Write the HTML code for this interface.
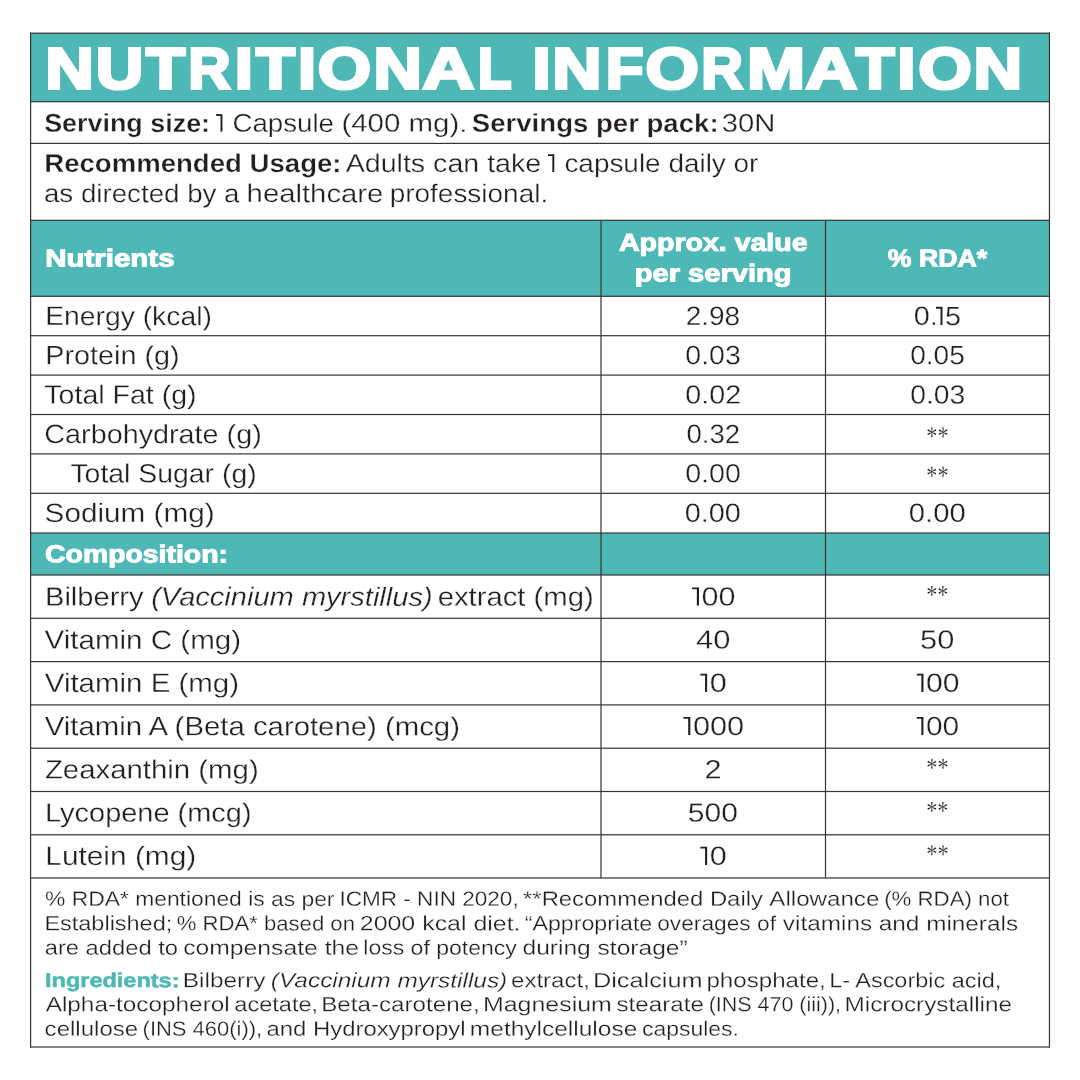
<!DOCTYPE html>
<html><head><meta charset="utf-8"><title>Nutritional Information</title>
<style>
html,body{margin:0;padding:0;background:#fff;}
body{width:1080px;height:1080px;position:relative;overflow:hidden;font-family:"Liberation Sans",sans-serif;}
#page{position:absolute;left:0;top:0;width:1080px;height:1080px;will-change:transform;text-rendering:geometricPrecision;}
.r{position:absolute;}
.t{position:absolute;white-space:pre;line-height:1;transform-origin:0 0;}
.o{display:inline-block;overflow:hidden;width:.265em;height:.72em;margin:0 .065em 0 -.08em;background:#231f20;color:transparent;-webkit-text-stroke:0 transparent;clip-path:polygon(.02em .032em,.245em .032em,.245em .72em,.175em .72em,.175em .102em,.02em .102em);}
</style></head><body><div id="page">
<svg class="r" width="1080" height="1080" viewBox="0 0 1080 1080" style="left:0;top:0">
<rect x="30" y="33" width="1020" height="68.7" fill="#4db8b5"/>
<rect x="30" y="220.3" width="1020" height="76.0" fill="#4db8b5"/>
<rect x="30" y="533" width="1020" height="42" fill="#4db8b5"/>
<rect x="30" y="101.1" width="1020" height="1.2" fill="#363636"/>
<rect x="30" y="142.8" width="1020" height="1.2" fill="#363636"/>
<rect x="30" y="219.7" width="1020" height="1.2" fill="#363636"/>
<rect x="30" y="295.7" width="1020" height="1.2" fill="#363636"/>
<rect x="30" y="335.1" width="1020" height="1.2" fill="#363636"/>
<rect x="30" y="374.5" width="1020" height="1.2" fill="#363636"/>
<rect x="30" y="413.9" width="1020" height="1.2" fill="#363636"/>
<rect x="30" y="453.3" width="1020" height="1.2" fill="#363636"/>
<rect x="30" y="492.7" width="1020" height="1.2" fill="#363636"/>
<rect x="30" y="532.4" width="1020" height="1.2" fill="#363636"/>
<rect x="30" y="574.4" width="1020" height="1.2" fill="#363636"/>
<rect x="30" y="617.7" width="1020" height="1.2" fill="#363636"/>
<rect x="30" y="661.0" width="1020" height="1.2" fill="#363636"/>
<rect x="30" y="704.3" width="1020" height="1.2" fill="#363636"/>
<rect x="30" y="747.6" width="1020" height="1.2" fill="#363636"/>
<rect x="30" y="790.9" width="1020" height="1.2" fill="#363636"/>
<rect x="30" y="834.2" width="1020" height="1.2" fill="#363636"/>
<rect x="30" y="877.4" width="1020" height="1.2" fill="#363636"/>
<rect x="600.4" y="220.3" width="1.2" height="657.7" fill="#363636"/>
<rect x="824.9" y="220.3" width="1.2" height="657.7" fill="#363636"/>
<rect x="30" y="32.6" width="1020" height="1.2" fill="#363636"/>
<rect x="30" y="1046.4" width="1020" height="1.2" fill="#363636"/>
<rect x="30.0" y="32.6" width="1.2" height="1015.0" fill="#363636"/>
<rect x="1048.85" y="32.6" width="1.2" height="1015.0" fill="#363636"/>
</svg>
<span class="t s" style="left:45px;top:40px;font-size:58.1px;color:#fff;transform:translate(0.22px,0.51px) scaleX(1.1574) rotate(.05deg);font-weight:700;-webkit-text-stroke:3px #fff;">N</span><span class="t s" style="left:95px;top:40px;font-size:58.1px;color:#fff;transform:translate(0.73px,0.51px) scaleX(1.1338) rotate(.05deg);font-weight:700;-webkit-text-stroke:3px #fff;">U</span><span class="t s" style="left:145px;top:40px;font-size:58.1px;color:#fff;transform:translate(0.96px,0.51px) scaleX(1.1036) rotate(.05deg);font-weight:700;-webkit-text-stroke:3px #fff;">T</span><span class="t s" style="left:188px;top:40px;font-size:58.1px;color:#fff;transform:translate(0.20px,0.51px) scaleX(1.0071) rotate(.05deg);font-weight:700;-webkit-text-stroke:3px #fff;">R</span><span class="t s" style="left:234px;top:40px;font-size:58.1px;color:#fff;transform:translate(0.81px,0.51px) scaleX(1.1242) rotate(.05deg);font-weight:700;-webkit-text-stroke:3px #fff;">I</span><span class="t s" style="left:255px;top:40px;font-size:58.1px;color:#fff;transform:translate(0.93px,0.51px) scaleX(1.0972) rotate(.05deg);font-weight:700;-webkit-text-stroke:3px #fff;">T</span><span class="t s" style="left:298px;top:40px;font-size:58.1px;color:#fff;transform:translate(0.04px,0.51px) scaleX(1.1155) rotate(.05deg);font-weight:700;-webkit-text-stroke:3px #fff;">I</span><span class="t s" style="left:317px;top:40px;font-size:58.1px;color:#fff;transform:translate(0.84px,0.51px) scaleX(1.1786) rotate(.05deg);font-weight:700;-webkit-text-stroke:3px #fff;">O</span><span class="t s" style="left:373px;top:40px;font-size:58.1px;color:#fff;transform:translate(0.43px,0.51px) scaleX(1.1516) rotate(.05deg);font-weight:700;-webkit-text-stroke:3px #fff;">N</span><span class="t s" style="left:422px;top:40px;font-size:58.1px;color:#fff;transform:translate(0.58px,0.51px) scaleX(1.2328) rotate(.05deg);font-weight:700;-webkit-text-stroke:3px #fff;">A</span><span class="t s" style="left:477px;top:40px;font-size:58.1px;color:#fff;transform:translate(0.71px,0.51px) scaleX(0.9528) rotate(.05deg);font-weight:700;-webkit-text-stroke:3px #fff;">L</span> <span class="t s" style="left:532px;top:40px;font-size:58.1px;color:#fff;transform:translate(0.44px,0.51px) scaleX(1.1266) rotate(.05deg);font-weight:700;-webkit-text-stroke:3px #fff;">I</span><span class="t s" style="left:552px;top:40px;font-size:58.1px;color:#fff;transform:translate(0.35px,0.51px) scaleX(1.1745) rotate(.05deg);font-weight:700;-webkit-text-stroke:3px #fff;">N</span><span class="t s" style="left:605px;top:40px;font-size:58.1px;color:#fff;transform:translate(0.68px,0.51px) scaleX(1.0650) rotate(.05deg);font-weight:700;-webkit-text-stroke:3px #fff;">F</span><span class="t s" style="left:645px;top:40px;font-size:58.1px;color:#fff;transform:translate(0.54px,0.51px) scaleX(1.1798) rotate(.05deg);font-weight:700;-webkit-text-stroke:3px #fff;">O</span><span class="t s" style="left:701px;top:40px;font-size:58.1px;color:#fff;transform:translate(0.37px,0.51px) scaleX(0.9939) rotate(.05deg);font-weight:700;-webkit-text-stroke:3px #fff;">R</span><span class="t s" style="left:747px;top:40px;font-size:58.1px;color:#fff;transform:translate(0.14px,0.51px) scaleX(1.1994) rotate(.05deg);font-weight:700;-webkit-text-stroke:3px #fff;">M</span><span class="t s" style="left:805px;top:40px;font-size:58.1px;color:#fff;transform:translate(0.58px,0.51px) scaleX(1.2328) rotate(.05deg);font-weight:700;-webkit-text-stroke:3px #fff;">A</span><span class="t s" style="left:855px;top:40px;font-size:58.1px;color:#fff;transform:translate(0.91px,0.51px) scaleX(1.0904) rotate(.05deg);font-weight:700;-webkit-text-stroke:3px #fff;">T</span><span class="t s" style="left:897px;top:40px;font-size:58.1px;color:#fff;transform:translate(0.30px,0.51px) scaleX(1.1246) rotate(.05deg);font-weight:700;-webkit-text-stroke:3px #fff;">I</span><span class="t s" style="left:918px;top:40px;font-size:58.1px;color:#fff;transform:translate(0.22px,0.51px) scaleX(1.1843) rotate(.05deg);font-weight:700;-webkit-text-stroke:3px #fff;">O</span><span class="t s" style="left:973px;top:40px;font-size:58.1px;color:#fff;transform:translate(0.63px,0.51px) scaleX(1.1583) rotate(.05deg);font-weight:700;-webkit-text-stroke:3px #fff;">N</span>
<span class="t" style="left:44px;top:111px;font-size:25.7px;color:#231f20;transform:translate(0.19px,0.80px) scaleX(1.0467) rotate(.05deg);font-weight:700;-webkit-text-stroke:0.3px #fff;">Serving size:</span>
<span class="t" style="left:217px;top:111px;font-size:25.7px;color:#231f20;transform:translate(0.87px,0.80px) scaleX(1.0769) rotate(.05deg);-webkit-text-stroke:0.3px #fff;"><span class="o">1</span> Capsule</span> <span class="t" style="left:341px;top:111px;font-size:25.7px;color:#231f20;transform:translate(0.43px,0.80px) scaleX(1.1468) rotate(.05deg);-webkit-text-stroke:0.3px #fff;">(400 mg).</span>
<span class="t" style="left:471px;top:111px;font-size:25.7px;color:#231f20;transform:translate(0.85px,0.80px) scaleX(1.0734) rotate(.05deg);font-weight:700;-webkit-text-stroke:0.3px #fff;">Servings per pack:</span>
<span class="t" style="left:721px;top:111px;font-size:25.7px;color:#231f20;transform:translate(0.72px,0.80px) scaleX(1.1372) rotate(.05deg);-webkit-text-stroke:0.3px #fff;">30N</span>
<span class="t" style="left:44px;top:151px;font-size:25.7px;color:#231f20;transform:translate(0.23px,0.90px) scaleX(1.0736) rotate(.05deg);font-weight:700;-webkit-text-stroke:0.3px #fff;">Recommended Usage:</span>
<span class="t" style="left:345px;top:151px;font-size:25.7px;color:#231f20;transform:translate(0.73px,0.90px) scaleX(1.1129) rotate(.05deg);-webkit-text-stroke:0.3px #fff;">Adults can take</span> <span class="t" style="left:549px;top:151px;font-size:25.7px;color:#231f20;transform:translate(0.68px,0.90px) scaleX(1.0871) rotate(.05deg);-webkit-text-stroke:0.3px #fff;"><span class="o">1</span> capsule daily or</span>
<span class="t" style="left:43px;top:182px;font-size:25.7px;color:#231f20;transform:translate(0.97px,0.10px) scaleX(1.0785) rotate(.05deg);-webkit-text-stroke:0.3px #fff;">as directed by a</span> <span class="t" style="left:246px;top:182px;font-size:25.7px;color:#231f20;transform:translate(0.64px,0.10px) scaleX(1.1398) rotate(.05deg);-webkit-text-stroke:0.3px #fff;">healthcare</span> <span class="t" style="left:389px;top:182px;font-size:25.7px;color:#231f20;transform:translate(0.73px,0.10px) scaleX(1.0878) rotate(.05deg);-webkit-text-stroke:0.3px #fff;">professional.</span>
<span class="t s" style="left:45px;top:247px;font-size:24.5px;color:#fff;transform:translate(0.15px,0.41px) scaleX(1.2035) rotate(.05deg);font-weight:700;-webkit-text-stroke:1.0px #fff;">Nutrients</span>
<span class="t s" style="left:618px;top:231px;font-size:24.5px;color:#fff;transform:translate(0.97px,0.71px) scaleX(1.1642) rotate(.05deg);font-weight:700;-webkit-text-stroke:1.0px #fff;">Approx. value</span>
<span class="t s" style="left:634px;top:262px;font-size:24.5px;color:#fff;transform:translate(0.78px,0.41px) scaleX(1.1869) rotate(.05deg);font-weight:700;-webkit-text-stroke:1.0px #fff;">per serving</span>
<span class="t s" style="left:887px;top:247px;font-size:24.5px;color:#fff;transform:translate(0.84px,0.51px) scaleX(1.0881) rotate(.05deg);font-weight:700;-webkit-text-stroke:1.0px #fff;">% RDA*</span>
<span class="t" style="left:45px;top:303px;font-size:26.6px;color:#231f20;transform:translate(0.16px,0.10px) scaleX(1.0643) rotate(.05deg);-webkit-text-stroke:0.3px #fff;">Energy (kcal)</span>
<span class="t" style="left:685px;top:303px;font-size:26.6px;color:#231f20;transform:translate(0.76px,0.10px) scaleX(1.0504) rotate(.05deg);-webkit-text-stroke:0.3px #fff;">2.98</span>
<span class="t" style="left:913px;top:303px;font-size:26.6px;color:#231f20;transform:translate(0.69px,0.10px) scaleX(1.0850) rotate(.05deg);-webkit-text-stroke:0.3px #fff;">0.<span class="o">1</span>5</span>
<span class="t" style="left:45px;top:342px;font-size:26.6px;color:#231f20;transform:translate(0.31px,0.30px) scaleX(1.0822) rotate(.05deg);-webkit-text-stroke:0.3px #fff;">Protein (g)</span>
<span class="t" style="left:685px;top:342px;font-size:26.6px;color:#231f20;transform:translate(0.35px,0.30px) scaleX(1.0726) rotate(.05deg);-webkit-text-stroke:0.3px #fff;">0.03</span>
<span class="t" style="left:910px;top:342px;font-size:26.6px;color:#231f20;transform:translate(0.19px,0.30px) scaleX(1.0544) rotate(.05deg);-webkit-text-stroke:0.3px #fff;">0.05</span>
<span class="t" style="left:44px;top:381px;font-size:26.6px;color:#231f20;transform:translate(0.37px,0.70px) scaleX(1.0732) rotate(.05deg);-webkit-text-stroke:0.3px #fff;">Total Fat (g)</span>
<span class="t" style="left:685px;top:381px;font-size:26.6px;color:#231f20;transform:translate(0.36px,0.70px) scaleX(1.0773) rotate(.05deg);-webkit-text-stroke:0.3px #fff;">0.02</span>
<span class="t" style="left:910px;top:381px;font-size:26.6px;color:#231f20;transform:translate(0.20px,0.70px) scaleX(1.0616) rotate(.05deg);-webkit-text-stroke:0.3px #fff;">0.03</span>
<span class="t" style="left:44px;top:421px;font-size:26.6px;color:#231f20;transform:translate(0.34px,0.10px) scaleX(1.0814) rotate(.05deg);-webkit-text-stroke:0.3px #fff;">Carbohydrate (g)</span>
<span class="t" style="left:686px;top:421px;font-size:26.6px;color:#231f20;transform:translate(0.44px,0.10px) scaleX(1.0352) rotate(.05deg);-webkit-text-stroke:0.3px #fff;">0.32</span>
<span class="t" style="left:926px;top:423px;font-size:27.3px;color:#231f20;transform:translate(0.27px,0.10px) scaleX(0.8150) rotate(.05deg);font-family:&quot;Liberation Serif&quot;,serif;-webkit-text-stroke:0.15px #fff;">**</span>
<span class="t" style="left:70px;top:460px;font-size:26.6px;color:#231f20;transform:translate(0.43px,0.50px) scaleX(1.0677) rotate(.05deg);-webkit-text-stroke:0.3px #fff;">Total Sugar (g)</span>
<span class="t" style="left:685px;top:460px;font-size:26.6px;color:#231f20;transform:translate(0.24px,0.50px) scaleX(1.0752) rotate(.05deg);-webkit-text-stroke:0.3px #fff;">0.00</span>
<span class="t" style="left:926px;top:462px;font-size:27.3px;color:#231f20;transform:translate(0.36px,0.50px) scaleX(0.8118) rotate(.05deg);font-family:&quot;Liberation Serif&quot;,serif;-webkit-text-stroke:0.15px #fff;">**</span>
<span class="t" style="left:44px;top:499px;font-size:26.6px;color:#231f20;transform:translate(0.63px,0.90px) scaleX(1.1173) rotate(.05deg);-webkit-text-stroke:0.3px #fff;">Sodium (mg)</span>
<span class="t" style="left:684px;top:499px;font-size:26.6px;color:#231f20;transform:translate(0.75px,0.90px) scaleX(1.0852) rotate(.05deg);-webkit-text-stroke:0.3px #fff;">0.00</span>
<span class="t" style="left:908px;top:499px;font-size:26.6px;color:#231f20;transform:translate(0.88px,0.90px) scaleX(1.0997) rotate(.05deg);-webkit-text-stroke:0.3px #fff;">0.00</span>
<span class="t s" style="left:45px;top:543px;font-size:24.5px;color:#fff;transform:translate(0.08px,0.31px) scaleX(1.1586) rotate(.05deg);font-weight:700;-webkit-text-stroke:1.0px #fff;">Composition:</span>
<span class="t" style="left:45px;top:583px;font-size:26.6px;color:#231f20;transform:translate(0.06px,0.70px) scaleX(1.0926) rotate(.05deg);-webkit-text-stroke:0.3px #fff;">Bilberry</span>
<span class="t" style="left:151px;top:583px;font-size:26.6px;color:#231f20;transform:translate(0.17px,0.70px) scaleX(1.0928) rotate(.05deg);font-style:italic;-webkit-text-stroke:0.3px #fff;">(Vaccinium myrstillus)</span>
<span class="t" style="left:437px;top:583px;font-size:26.6px;color:#231f20;transform:translate(0.77px,0.70px) scaleX(1.0993) rotate(.05deg);-webkit-text-stroke:0.3px #fff;">extract (mg)</span>
<span class="t" style="left:693px;top:583px;font-size:26.6px;color:#231f20;transform:translate(0.97px,0.70px) scaleX(1.1445) rotate(.05deg);-webkit-text-stroke:0.3px #fff;"><span class="o">1</span>00</span>
<span class="t" style="left:926px;top:581px;font-size:27.3px;color:#231f20;transform:translate(0.26px,0.80px) scaleX(0.8150) rotate(.05deg);font-family:&quot;Liberation Serif&quot;,serif;-webkit-text-stroke:0.15px #fff;">**</span>
<span class="t" style="left:44px;top:626px;font-size:26.6px;color:#231f20;transform:translate(0.56px,0.85px) scaleX(1.1114) rotate(.05deg);-webkit-text-stroke:0.3px #fff;">Vitamin C (mg)</span>
<span class="t" style="left:696px;top:626px;font-size:26.6px;color:#231f20;transform:translate(0.11px,0.85px) scaleX(1.1618) rotate(.05deg);-webkit-text-stroke:0.3px #fff;">40</span>
<span class="t" style="left:920px;top:626px;font-size:26.6px;color:#231f20;transform:translate(0.11px,0.85px) scaleX(1.1584) rotate(.05deg);-webkit-text-stroke:0.3px #fff;">50</span>
<span class="t" style="left:44px;top:670px;font-size:26.6px;color:#231f20;transform:translate(0.78px,0.00px) scaleX(1.1080) rotate(.05deg);-webkit-text-stroke:0.3px #fff;">Vitamin E (mg)</span>
<span class="t" style="left:702px;top:670px;font-size:26.6px;color:#231f20;transform:translate(0.16px,0.00px) scaleX(1.1504) rotate(.05deg);-webkit-text-stroke:0.3px #fff;"><span class="o">1</span>0</span>
<span class="t" style="left:918px;top:670px;font-size:26.6px;color:#231f20;transform:translate(0.51px,0.00px) scaleX(1.1331) rotate(.05deg);-webkit-text-stroke:0.3px #fff;"><span class="o">1</span>00</span>
<span class="t" style="left:44px;top:713px;font-size:26.6px;color:#231f20;transform:translate(0.71px,0.20px) scaleX(1.1032) rotate(.05deg);-webkit-text-stroke:0.3px #fff;">Vitamin A (Beta carotene) (mcg)</span>
<span class="t" style="left:685px;top:713px;font-size:26.6px;color:#231f20;transform:translate(0.27px,0.20px) scaleX(1.1551) rotate(.05deg);-webkit-text-stroke:0.3px #fff;"><span class="o">1</span>000</span>
<span class="t" style="left:918px;top:713px;font-size:26.6px;color:#231f20;transform:translate(0.50px,0.20px) scaleX(1.1238) rotate(.05deg);-webkit-text-stroke:0.3px #fff;"><span class="o">1</span>00</span>
<span class="t" style="left:44px;top:756px;font-size:26.6px;color:#231f20;transform:translate(0.90px,0.40px) scaleX(1.1041) rotate(.05deg);-webkit-text-stroke:0.3px #fff;">Zeaxanthin (mg)</span>
<span class="t" style="left:704px;top:756px;font-size:26.6px;color:#231f20;transform:translate(0.44px,0.40px) scaleX(1.1554) rotate(.05deg);-webkit-text-stroke:0.3px #fff;">2</span>
<span class="t" style="left:926px;top:754px;font-size:27.3px;color:#231f20;transform:translate(0.36px,0.50px) scaleX(0.8118) rotate(.05deg);font-family:&quot;Liberation Serif&quot;,serif;-webkit-text-stroke:0.15px #fff;">**</span>
<span class="t" style="left:45px;top:799px;font-size:26.6px;color:#231f20;transform:translate(0.11px,0.70px) scaleX(1.0883) rotate(.05deg);-webkit-text-stroke:0.3px #fff;">Lycopene (mcg)</span>
<span class="t" style="left:687px;top:799px;font-size:26.6px;color:#231f20;transform:translate(0.82px,0.70px) scaleX(1.1288) rotate(.05deg);-webkit-text-stroke:0.3px #fff;">500</span>
<span class="t" style="left:926px;top:797px;font-size:27.3px;color:#231f20;transform:translate(0.26px,0.80px) scaleX(0.8150) rotate(.05deg);font-family:&quot;Liberation Serif&quot;,serif;-webkit-text-stroke:0.15px #fff;">**</span>
<span class="t" style="left:45px;top:843px;font-size:26.6px;color:#231f20;transform:translate(0.31px,0.00px) scaleX(1.1221) rotate(.05deg);-webkit-text-stroke:0.3px #fff;">Lutein (mg)</span>
<span class="t" style="left:702px;top:843px;font-size:26.6px;color:#231f20;transform:translate(0.16px,0.00px) scaleX(1.1504) rotate(.05deg);-webkit-text-stroke:0.3px #fff;"><span class="o">1</span>0</span>
<span class="t" style="left:926px;top:841px;font-size:27.3px;color:#231f20;transform:translate(0.27px,0.10px) scaleX(0.8150) rotate(.05deg);font-family:&quot;Liberation Serif&quot;,serif;-webkit-text-stroke:0.15px #fff;">**</span>
<span class="t" style="left:45px;top:889px;font-size:20.6px;color:#231f20;transform:translate(0.05px,0.70px) scaleX(1.1091) rotate(.05deg);-webkit-text-stroke:0.25px #fff;">% RDA* mentioned is as per</span> <span class="t" style="left:339px;top:889px;font-size:20.6px;color:#231f20;transform:translate(0.40px,0.70px) scaleX(1.0956) rotate(.05deg);-webkit-text-stroke:0.25px #fff;">ICMR - NIN 2020,</span> <span class="t" style="left:523px;top:889px;font-size:20.6px;color:#231f20;transform:translate(0.10px,0.70px) scaleX(1.1575) rotate(.05deg);-webkit-text-stroke:0.25px #fff;">**Recommended Daily</span> <span class="t" style="left:769px;top:889px;font-size:20.6px;color:#231f20;transform:translate(0.32px,0.70px) scaleX(1.1721) rotate(.05deg);-webkit-text-stroke:0.25px #fff;">Allowance</span> <span class="t" style="left:884px;top:889px;font-size:20.6px;color:#231f20;transform:translate(0.20px,0.70px) scaleX(1.0799) rotate(.05deg);-webkit-text-stroke:0.25px #fff;">(% RDA) not</span>
<span class="t" style="left:44px;top:914px;font-size:20.6px;color:#231f20;transform:translate(0.45px,0.30px) scaleX(1.1390) rotate(.05deg);-webkit-text-stroke:0.25px #fff;">Established;</span> <span class="t" style="left:176px;top:914px;font-size:20.6px;color:#231f20;transform:translate(0.74px,0.30px) scaleX(1.0738) rotate(.05deg);-webkit-text-stroke:0.25px #fff;">% RDA* based on</span> <span class="t" style="left:359px;top:914px;font-size:20.6px;color:#231f20;transform:translate(0.79px,0.30px) scaleX(1.2106) rotate(.05deg);-webkit-text-stroke:0.25px #fff;">2000 kcal diet.</span> <span class="t" style="left:524px;top:914px;font-size:20.6px;color:#231f20;transform:translate(0.74px,0.30px) scaleX(1.1251) rotate(.05deg);-webkit-text-stroke:0.25px #fff;">“Appropriate</span> <span class="t" style="left:657px;top:914px;font-size:20.6px;color:#231f20;transform:translate(0.17px,0.30px) scaleX(1.1043) rotate(.05deg);-webkit-text-stroke:0.25px #fff;">overages of</span> <span class="t" style="left:782px;top:914px;font-size:20.6px;color:#231f20;transform:translate(0.89px,0.30px) scaleX(1.1809) rotate(.05deg);-webkit-text-stroke:0.25px #fff;">vitamins and minerals</span>
<span class="t" style="left:44px;top:938px;font-size:20.6px;color:#231f20;transform:translate(0.71px,0.60px) scaleX(1.1527) rotate(.05deg);-webkit-text-stroke:0.25px #fff;">are added to</span> <span class="t" style="left:183px;top:938px;font-size:20.6px;color:#231f20;transform:translate(0.22px,0.60px) scaleX(1.1994) rotate(.05deg);-webkit-text-stroke:0.25px #fff;">compensate the</span> <span class="t" style="left:363px;top:938px;font-size:20.6px;color:#231f20;transform:translate(0.29px,0.60px) scaleX(1.1181) rotate(.05deg);-webkit-text-stroke:0.25px #fff;">loss of potency</span> <span class="t" style="left:522px;top:938px;font-size:20.6px;color:#231f20;transform:translate(0.53px,0.60px) scaleX(1.1922) rotate(.05deg);-webkit-text-stroke:0.25px #fff;">during storage”</span>
<span class="t s" style="left:45px;top:971px;font-size:20.0px;color:#4db8b5;transform:translate(0.03px,0.05px) scaleX(1.1751) rotate(.05deg);font-weight:700;-webkit-text-stroke:0.5px #4db8b5;">Ingredients:</span>
<span class="t" style="left:182px;top:971px;font-size:20.6px;color:#231f20;transform:translate(0.81px,0.30px) scaleX(1.1859) rotate(.05deg);-webkit-text-stroke:0.25px #fff;">Bilberry</span>
<span class="t" style="left:270px;top:971px;font-size:20.6px;color:#231f20;transform:translate(0.87px,0.30px) scaleX(1.1851) rotate(.05deg);font-style:italic;-webkit-text-stroke:0.25px #fff;">(Vaccinium myrstillus)</span>
<span class="t" style="left:511px;top:971px;font-size:20.6px;color:#231f20;transform:translate(0.03px,0.30px) scaleX(1.1674) rotate(.05deg);-webkit-text-stroke:0.25px #fff;">extract,</span> <span class="t" style="left:592px;top:971px;font-size:20.6px;color:#231f20;transform:translate(0.94px,0.30px) scaleX(1.2290) rotate(.05deg);-webkit-text-stroke:0.25px #fff;">Dicalcium</span> <span class="t" style="left:706px;top:971px;font-size:20.6px;color:#231f20;transform:translate(0.46px,0.30px) scaleX(1.1712) rotate(.05deg);-webkit-text-stroke:0.25px #fff;">phosphate,</span> <span class="t" style="left:829px;top:971px;font-size:20.6px;color:#231f20;transform:translate(0.17px,0.30px) scaleX(1.1397) rotate(.05deg);-webkit-text-stroke:0.25px #fff;">L- Ascorbic acid,</span>
<span class="t" style="left:45px;top:995px;font-size:20.6px;color:#231f20;transform:translate(0.70px,0.20px) scaleX(1.1819) rotate(.05deg);-webkit-text-stroke:0.25px #fff;">Alpha-tocopherol</span> <span class="t" style="left:234px;top:995px;font-size:20.6px;color:#231f20;transform:translate(0.38px,0.20px) scaleX(1.1420) rotate(.05deg);-webkit-text-stroke:0.25px #fff;">acetate,</span> <span class="t" style="left:321px;top:995px;font-size:20.6px;color:#231f20;transform:translate(0.19px,0.20px) scaleX(1.1741) rotate(.05deg);-webkit-text-stroke:0.25px #fff;">Beta-carotene,</span> <span class="t" style="left:482px;top:995px;font-size:20.6px;color:#231f20;transform:translate(0.94px,0.20px) scaleX(1.2109) rotate(.05deg);-webkit-text-stroke:0.25px #fff;">Magnesium</span> <span class="t" style="left:616px;top:995px;font-size:20.6px;color:#231f20;transform:translate(0.52px,0.20px) scaleX(1.1736) rotate(.05deg);-webkit-text-stroke:0.25px #fff;">stearate</span> <span class="t" style="left:708px;top:995px;font-size:20.6px;color:#231f20;transform:translate(0.70px,0.20px) scaleX(1.0421) rotate(.05deg);-webkit-text-stroke:0.25px #fff;">(INS 470 (iii)),</span> <span class="t" style="left:844px;top:995px;font-size:20.6px;color:#231f20;transform:translate(0.53px,0.20px) scaleX(1.1805) rotate(.05deg);-webkit-text-stroke:0.25px #fff;">Microcrystalline</span>
<span class="t" style="left:44px;top:1019px;font-size:20.6px;color:#231f20;transform:translate(0.64px,0.70px) scaleX(1.1675) rotate(.05deg);-webkit-text-stroke:0.25px #fff;">cellulose</span> <span class="t" style="left:142px;top:1019px;font-size:20.6px;color:#231f20;transform:translate(0.61px,0.70px) scaleX(1.0660) rotate(.05deg);-webkit-text-stroke:0.25px #fff;">(INS 460(i)),</span> <span class="t" style="left:266px;top:1019px;font-size:20.6px;color:#231f20;transform:translate(0.47px,0.70px) scaleX(1.1600) rotate(.05deg);-webkit-text-stroke:0.25px #fff;">and Hydroxypropyl</span> <span class="t" style="left:469px;top:1019px;font-size:20.6px;color:#231f20;transform:translate(0.88px,0.70px) scaleX(1.1893) rotate(.05deg);-webkit-text-stroke:0.25px #fff;">methylcellulose</span> <span class="t" style="left:642px;top:1019px;font-size:20.6px;color:#231f20;transform:translate(0.01px,0.70px) scaleX(1.1133) rotate(.05deg);-webkit-text-stroke:0.25px #fff;">capsules.</span>
</div></body></html>
